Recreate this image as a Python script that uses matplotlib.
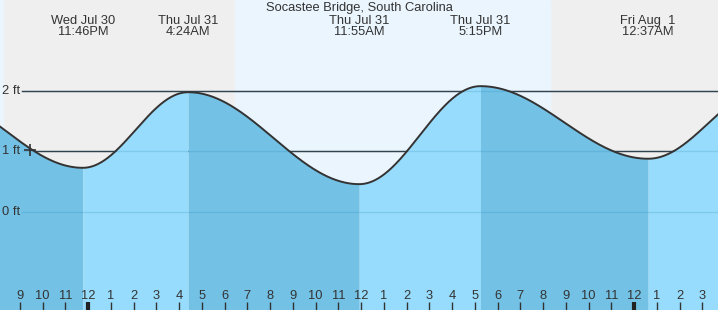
import numpy as np
import matplotlib
matplotlib.use("Agg")
import matplotlib.pyplot as plt

plt.rcParams['font.family'] = ['Liberation Sans', 'DejaVu Sans']

# hours counted from midnight Thu Jul 31
tide_times = [-7.0, -0.23, 4.40, 11.92, 17.25, 24.62, 29.9]
tide_heights = [1.95, 0.73, 1.98, 0.46, 2.08, 0.88, 2.05]
tide_labels = ["", "Wed Jul 30\n11:46PM", "Thu Jul 31\n4:24AM", "Thu Jul 31\n11:55AM",
               "Thu Jul 31\n5:15PM", "Fri Aug  1\n12:37AM", ""]
sunset_prev, sunrise, sunset = -3.74, 6.46, 20.3
hour_ticks = list(range(-3, 28))
hour_labels = [str((h - 1) % 12 + 1) for h in hour_ticks]
ft_levels = [0, 1, 2]
now_time, now_height = -2.55, 1.02

x0, x1 = -3.87, 27.69
y0, y1 = -1.62, 3.504

night_bg = '#efefef'
day_bg = '#ebf5fe'
water_rise = '#97dcfc'
water_fall = '#73c2e6'
ink = '#333333'
fs = 9.3

fig = plt.figure(figsize=(7.18, 3.10), dpi=100)
ax = fig.add_axes([0, 0, 1, 1])
ax.set_xlim(x0, x1)
ax.set_ylim(y0, y1)
ax.axis('off')

# day / night background
ax.axvspan(x0, x1, color=night_bg, zorder=0)
ax.axvspan(x0, sunset_prev, color=day_bg, zorder=0)
ax.axvspan(sunrise, sunset, color=day_bg, zorder=0)

# height lines behind the water
line_start = x0 + 22 / 22.75
for lv in ft_levels[1:]:
    ax.plot([line_start, x1], [lv, lv], color=ink, lw=1, zorder=1)
for lv in ft_levels:
    ax.text(x0 + 2 / 22.75, lv, f"{lv} ft", ha='left', va='center',
            fontsize=fs, color=ink, zorder=6)

# tide curve, cosine between successive extremes
ts, hs = [], []
for i in range(len(tide_times) - 1):
    ta, tb = tide_times[i], tide_times[i + 1]
    ha_, hb = tide_heights[i], tide_heights[i + 1]
    t = np.linspace(ta, tb, 200)
    s = (t - ta) / (tb - ta)
    h = hb + (ha_ - hb) * (1 + np.cos(np.pi * s)) / 2
    col = water_rise if hb > ha_ else water_fall
    ax.fill_between(t, y0, h, color=col, lw=0, zorder=2)
    ts.append(t)
    hs.append(h)
ax.plot(np.concatenate(ts), np.concatenate(hs), color=ink, lw=1.4, zorder=4)

# faint height lines seen through the water
for lv in ft_levels:
    ax.plot([line_start, x1], [lv, lv], color='#2a86b8', lw=1, alpha=0.22, zorder=3)

# current time marker
ax.plot([now_time], [now_height], marker='+', ms=9, mew=1.2, color=ink, zorder=5)

# extreme labels
for t, lab in zip(tide_times, tide_labels):
    if lab:
        ax.text(t, 1 - 26.5 / 310, lab, transform=ax.get_xaxis_transform(),
                ha='center', va='center', fontsize=fs, color=ink,
                linespacing=0.95, zorder=6)

ax.text(0.5, 1 - 7.5 / 310, "Socastee Bridge, South Carolina", transform=ax.transAxes,
        ha='center', va='center', fontsize=fs, color=ink, zorder=6)

# hour ticks along the bottom
for h, lab in zip(hour_ticks, hour_labels):
    ax.text(h, 14 / 310, lab, transform=ax.get_xaxis_transform(),
            ha='center', va='center', fontsize=fs, color=ink, zorder=6)
    big = h % 24 == 0
    ax.plot([h, h], [0, 8 / 310], transform=ax.get_xaxis_transform(),
            color='#222222' if big else ink, lw=3 if big else 1,
            solid_capstyle='butt', zorder=6)

fig.savefig("out.png", dpi=100)
